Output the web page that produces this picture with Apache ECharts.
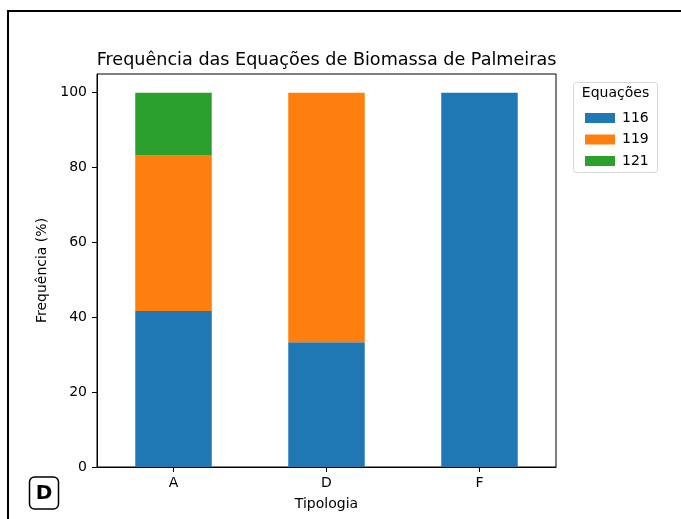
<!DOCTYPE html>
<html>
<head>
<meta charset="utf-8">
<script src="https://cdn.jsdelivr.net/npm/echarts@6/dist/echarts.min.js"></script>
<style>
  html, body { margin: 0; padding: 0; background: #fff; }
  #chart { width: 681px; height: 519px; }
</style>
</head>
<body>
<div id="chart"></div>
<script>
// Typology categories and the share (%) of each biomass equation
const categories = ['A', 'D', 'F'];
const eq116 = [41.67, 33.33, 100];
const eq119 = [41.67, 66.67, 0];
const eq121 = [16.67, 0, 0];
const seriesNames = ['116', '119', '121'];
const yTicks = [0, 20, 40, 60, 80, 100];

const colors = ['#1f77b4', '#ff7f0e', '#2ca02c'];
const FONT = 'DejaVu Sans';

const chart = echarts.init(document.getElementById('chart'), null, { renderer: 'canvas' });

const values = [eq116, eq119, eq121];
const series = seriesNames.map((name, i) => ({
  name: name,
  type: 'bar',
  stack: 'total',
  barWidth: '50%',
  itemStyle: { color: colors[i] },
  data: values[i]
}));

chart.setOption({
  animation: false,
  backgroundColor: '#fff',
  textStyle: { fontFamily: FONT },
  graphic: [
    // outer frame around the figure
    {
      type: 'rect',
      shape: { x: 8, y: 11, width: 700, height: 540 },
      style: { fill: 'none', stroke: '#000', lineWidth: 2 },
      silent: true
    },
    // chart title, centred over the plot area
    {
      type: 'text',
      x: 326.5,
      y: 60,
      style: {
        text: 'Frequência das Equações de Biomassa de Palmeiras',
        fontFamily: FONT, fontSize: 17.6, fill: '#000',
        textAlign: 'center', textVerticalAlign: 'middle'
      },
      silent: true
    },
    // legend box and heading
    {
      type: 'rect',
      shape: { x: 573.5, y: 82.5, width: 84, height: 90, r: 3 },
      style: { fill: '#fff', stroke: '#d6d6d6', lineWidth: 1 },
      z: -1,
      silent: true
    },
    {
      type: 'text',
      x: 615.5,
      y: 93.5,
      style: {
        text: 'Equações', fontFamily: FONT, fontSize: 14, fill: '#000',
        textAlign: 'center', textVerticalAlign: 'middle'
      },
      silent: true
    },
    // panel tag
    {
      type: 'rect',
      shape: { x: 29.5, y: 477, width: 29, height: 32, r: 5 },
      style: { fill: '#fff', stroke: '#000', lineWidth: 1.5 },
      silent: true
    },
    {
      type: 'text',
      x: 44,
      y: 493.5,
      style: {
        text: 'D', fontFamily: FONT, fontSize: 20, fontWeight: 'bold', fill: '#000',
        textAlign: 'center', textVerticalAlign: 'middle'
      },
      silent: true
    }
  ],
  grid: {
    left: 97, right: 125, top: 74, bottom: 52,
    show: true, borderColor: '#000', borderWidth: 1, backgroundColor: 'transparent'
  },
  legend: {
    orient: 'vertical',
    left: 580,
    top: 106,
    itemWidth: 30,
    itemHeight: 10,
    itemGap: 7.5,
    icon: 'rect',
    data: seriesNames,
    textStyle: { fontFamily: FONT, fontSize: 14, color: '#000', lineHeight: 14, padding: [0, 0, 0, 2] }
  },
  xAxis: {
    type: 'category',
    data: categories,
    axisLine: { show: true, lineStyle: { color: '#000', width: 1 } },
    axisTick: { show: true, alignWithLabel: true, length: 5, lineStyle: { color: '#000' } },
    axisLabel: { color: '#000', fontSize: 14, fontFamily: FONT, margin: 9 },
    name: 'Tipologia',
    nameLocation: 'middle',
    nameGap: 30,
    nameTextStyle: { color: '#000', fontSize: 14, fontFamily: FONT }
  },
  yAxis: {
    type: 'value',
    min: 0,
    max: 105,
    splitLine: { show: false },
    axisLine: { show: true, lineStyle: { color: '#000', width: 1 } },
    axisTick: { show: true, length: 5, customValues: yTicks, lineStyle: { color: '#000' } },
    axisLabel: { color: '#000', fontSize: 14, fontFamily: FONT, margin: 10, customValues: yTicks },
    name: 'Frequência (%)',
    nameLocation: 'middle',
    nameGap: 48,
    nameTextStyle: { color: '#000', fontSize: 14, fontFamily: FONT }
  },
  series: series
});
</script>
</body>
</html>
